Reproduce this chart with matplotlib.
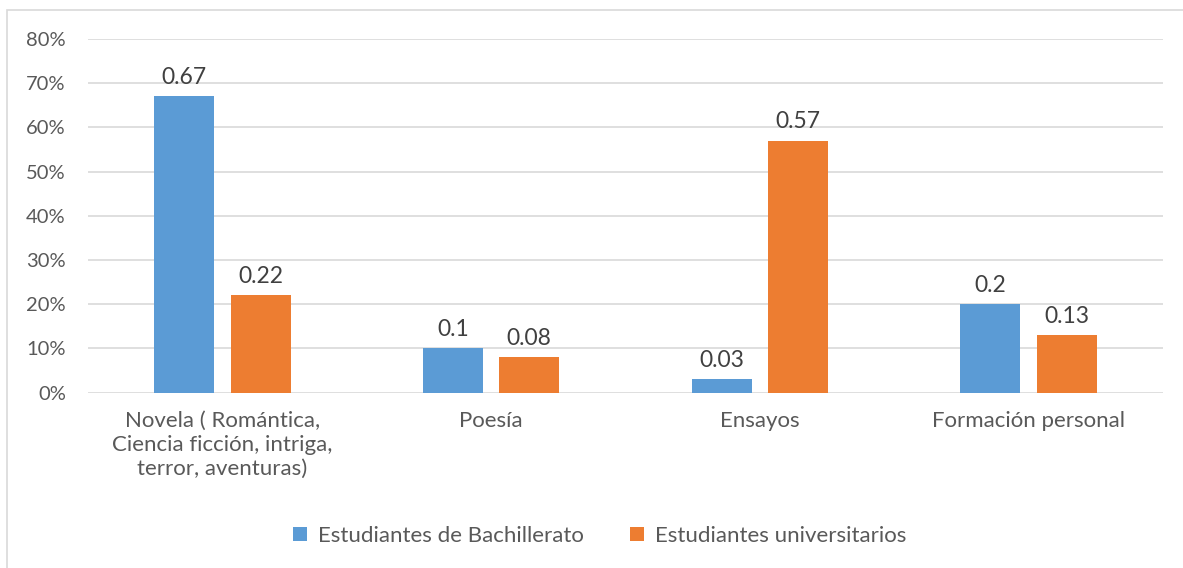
import matplotlib
matplotlib.use('Agg')
import matplotlib.pyplot as plt
import numpy as np
from matplotlib.patches import Rectangle
from matplotlib.ticker import PercentFormatter

plt.rcParams['font.family'] = ['Lato', 'DejaVu Sans']

categorias = ['Novela ( Romántica,\nCiencia ficción, intriga,\nterror, aventuras)',
              'Poesía', 'Ensayos', 'Formación personal']
bachillerato = [0.67, 0.10, 0.03, 0.20]
universitarios = [0.22, 0.08, 0.57, 0.13]
etiquetas_bach = ['0.67', '0.1', '0.03', '0.2']
etiquetas_univ = ['0.22', '0.08', '0.57', '0.13']

azul = '#5B9BD5'
naranja = '#ED7D31'
gris_txt = '#595959'

fig = plt.figure(figsize=(11.83, 5.68), dpi=100)
# borde del grafico
fig.patches.append(Rectangle((7 / 1183, -0.1), 1.2, 1.1 - 10.5 / 568, transform=fig.transFigure,
                             fill=False, edgecolor='#D9D9D9', linewidth=1.2))
ax = fig.add_axes([88 / 1183, 175.5 / 568, 1075 / 1183, 353.5 / 568])

x = np.arange(len(categorias))
w = 0.223
off = 0.142
b1 = ax.bar(x - off, bachillerato, w, color=azul, label='Estudiantes de Bachillerato', zorder=3)
b2 = ax.bar(x + off, universitarios, w, color=naranja, label='Estudiantes universitarios', zorder=3)
ax.bar_label(b1, labels=etiquetas_bach, padding=6, fontsize=16.5, color='#404040')
ax.bar_label(b2, labels=etiquetas_univ, padding=6, fontsize=16.5, color='#404040')

ax.set_xlim(-0.5, 3.5)
ax.set_ylim(0, 0.8)
ax.set_yticks(np.arange(0, 0.81, 0.1))
ax.yaxis.set_major_formatter(PercentFormatter(1.0, decimals=0))
ax.grid(axis='y', color='#D9D9D9', linewidth=1.2, zorder=0)
for s in ax.spines.values():
    s.set_visible(False)
ax.tick_params(axis='both', length=0, labelsize=16, colors=gris_txt)
ax.tick_params(axis='y', labelsize=14.5, pad=16)
ax.tick_params(axis='x', pad=13)
ax.set_xticks(x)
ax.set_xticklabels(categorias, linespacing=1.25)

fig.legend(handles=[b1, b2], loc='center', bbox_to_anchor=(0.507, 1 - 536 / 568), ncol=2,
           frameon=False, fontsize=16, labelcolor=gris_txt, handlelength=0.6, handleheight=0.6,
           handletextpad=0.5, columnspacing=2.1)

fig.savefig('out.png', dpi=100)
